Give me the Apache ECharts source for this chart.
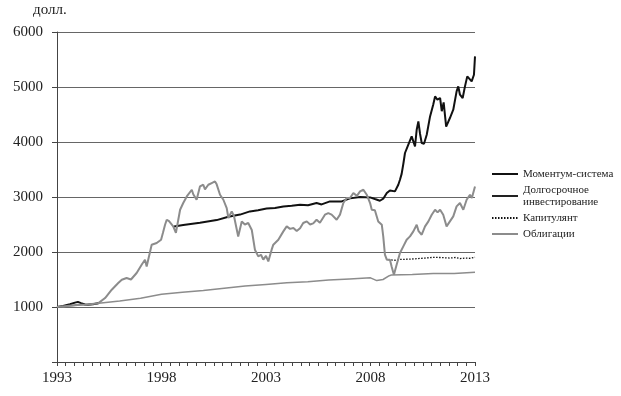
<!DOCTYPE html>
<html>
<head>
<meta charset="utf-8">
<script src="https://cdn.jsdelivr.net/npm/echarts@6/dist/echarts.min.js"></script>
<style>
html,body{margin:0;padding:0;background:#fff;}
#c{width:621px;height:396px;}
</style>
</head>
<body>
<div id="c"></div>
<script>
// ---- data (years as decimals, values in dollars) ----
var seriesNames = ['Моментум-система', 'Долгосрочное инвестирование', 'Капитулянт', 'Облигации'];
var xTickYears = [1993, 1998, 2003, 2008, 2013];

var stockYears = [1993.0,1993.48,1994.0,1994.48,1994.98,1995.30,1995.62,1995.93,1996.10,1996.33,1996.54,1996.81,1997.05,1997.21,1997.29,1997.53,1997.77,1997.98,1998.07,1998.17,1998.25,1998.36,1998.56,1998.69,1998.89,1999.04,1999.21,1999.29,1999.45,1999.52,1999.68,1999.84,2000.0,2000.08,2000.24,2000.40,2000.56,2000.64,2000.80,2000.96,2001.12,2001.20,2001.36,2001.47,2001.67,2001.84,2001.99,2002.15,2002.32,2002.47,2002.63,2002.76,2002.87,2003.0,2003.11,2003.27,2003.35,2003.59,2003.83,2003.99,2004.15,2004.31,2004.47,2004.63,2004.78,2004.95,2005.11,2005.26,2005.42,2005.58,2005.82,2005.98,2006.14,2006.38,2006.54,2006.70,2006.86,2007.02,2007.18,2007.26,2007.35,2007.50,2007.66,2007.74,2007.82,2007.98,2008.06,2008.21,2008.37,2008.54,2008.61,2008.69,2008.78,2008.93,2009.01,2009.12,2009.25,2009.41,2009.57,2009.73,2009.89,2010.05,2010.21,2010.30,2010.45,2010.61,2010.77,2010.93,2011.09,2011.21,2011.33,2011.48,2011.64,2011.80,2011.96,2012.12,2012.28,2012.44,2012.60,2012.76,2012.85,2013.0];
var stockValues = [1000,1020,1040,1045,1070,1163,1314,1436,1496,1527,1500,1618,1769,1860,1738,2133,2163,2224,2350,2496,2587,2560,2465,2350,2769,2890,3010,2980,3132,3050,2950,3192,3223,3140,3223,3254,3283,3230,3041,2950,2799,2618,2738,2650,2283,2556,2500,2527,2400,2042,1920,1950,1860,1930,1829,2042,2133,2224,2375,2466,2420,2436,2380,2430,2527,2557,2500,2520,2587,2530,2678,2708,2680,2587,2680,2890,2981,2981,3072,3102,3020,3102,3132,3163,3041,2890,2769,2760,2556,2496,2284,1951,1860,1860,1738,1587,1769,1981,2102,2224,2284,2375,2496,2380,2314,2466,2557,2678,2769,2720,2769,2678,2466,2557,2647,2829,2890,2769,2950,3041,2980,3193];

// momentum system: the 1995–1998 stretch coincides with the stock line (hidden under it)
var momentumYears = [1993.0,1993.29,1993.62,1993.86,1994.0,1994.15,1994.34,1994.48,1994.72,1994.98,1996.8,1998.60,1999.04,1999.84,2000.64,2001.20,2001.76,2002.23,2002.62,2003.03,2003.43,2003.83,2004.23,2004.63,2005.01,2005.42,2005.66,2006.06,2006.62,2007.02,2007.50,2007.98,2008.21,2008.45,2008.61,2008.78,2008.93,2009.17,2009.25,2009.33,2009.41,2009.49,2009.57,2009.65,2009.81,2009.97,2010.05,2010.13,2010.21,2010.29,2010.37,2010.45,2010.56,2010.69,2010.85,2011.00,2011.09,2011.20,2011.33,2011.41,2011.50,2011.62,2011.70,2011.80,2011.96,2012.12,2012.20,2012.28,2012.41,2012.52,2012.63,2012.71,2012.84,2012.95,2013.0];
var momentumValues = [1000,1020,1050,1080,1093,1070,1045,1042,1050,1070,null,2465,2490,2530,2580,2640,2680,2738,2760,2790,2800,2829,2840,2860,2850,2890,2865,2920,2920,2975,3000,2993,2963,2932,2969,3072,3120,3102,3110,3223,3314,3420,3600,3800,3951,4102,4080,3920,4223,4374,4150,3981,3969,4132,4465,4678,4829,4769,4800,4560,4720,4280,4253,4436,4587,4920,5011,4860,4800,5011,5193,5180,5102,5223,5557];

var capitulantYears = [2008.85,2009.17,2009.41,2009.89,2010.21,2010.61,2011.00,2011.33,2011.80,2012.08,2012.28,2012.52,2012.76,2013.0];
var capitulantValues = [1860,1850,1865,1870,1878,1890,1902,1900,1890,1900,1880,1890,1885,1905];

var bondYears = [1993,1994,1995,1996,1997,1998,1999,2000,2001,2002,2003,2004,2005,2006,2007,2008,2008.3,2008.6,2008.9,2009,2010,2011,2012,2013];
var bondValues = [1000,1030,1070,1110,1160,1230,1270,1300,1340,1380,1410,1440,1460,1490,1510,1530,1480,1500,1570,1580,1590,1610,1610,1630];

function pairs(xs, ys){ return xs.map(function(x,i){ return [x, ys[i]]; }); }

var FONT = '"Liberation Serif", "DejaVu Serif", serif';
var chart = echarts.init(document.getElementById('c'), null, {renderer:'canvas'});
chart.setOption({
  animation:false,
  backgroundColor:'#fff',
  textStyle:{fontFamily:FONT},
  title:{text:'долл.', left:33, top:3, padding:0, textStyle:{fontFamily:FONT, fontSize:15, fontWeight:'normal', color:'#222'}},
  grid:{left:57, right:146, top:32, bottom:34},
  legend:{
    orient:'vertical', left:491, top:168, itemGap:4, itemWidth:26, itemHeight:10, padding:0,
    itemStyle:{opacity:0, borderWidth:0},
    textStyle:{fontFamily:FONT, fontSize:11, color:'#222', lineHeight:12},
    formatter:function(n){ return n === seriesNames[1] ? 'Долгосрочное\nинвестирование' : n; },
    data:[
      {name:seriesNames[0]},
      {name:seriesNames[1], lineStyle:{color:'#222'}},
      {name:seriesNames[2]},
      {name:seriesNames[3]}
    ]
  },
  xAxis:{
    type:'value', min:1993, max:2013, interval:5,
    axisLine:{show:true, onZero:false, lineStyle:{color:'#444', width:1}},
    axisTick:{show:true, length:4, lineStyle:{color:'#444'}},
    minorTick:{show:true, splitNumber:12, length:4, lineStyle:{color:'#444'}},
    splitLine:{show:false},
    axisLabel:{fontFamily:FONT, fontSize:15, color:'#222', margin:9, formatter:function(v){ return xTickYears.indexOf(v) >= 0 ? String(v) : ''; }}
  },
  yAxis:{
    type:'value', min:0, max:6000, interval:1000,
    axisLine:{show:true, lineStyle:{color:'#444', width:1}},
    axisTick:{show:true, length:5, lineStyle:{color:'#444'}},
    splitLine:{show:true, lineStyle:{color:'#666', width:1}},
    axisLabel:{fontFamily:FONT, fontSize:15, color:'#222', margin:14, formatter:function(v){ return v === 0 ? '' : String(v); }}
  },
  series:[
    {name:seriesNames[0], type:'line', symbol:'none', z:3, data:pairs(momentumYears, momentumValues),
     lineStyle:{color:'#111', width:2}, itemStyle:{color:'#111'}},
    {name:seriesNames[1], type:'line', symbol:'none', z:5, data:pairs(stockYears, stockValues),
     lineStyle:{color:'#8c8c8c', width:2}, itemStyle:{color:'#8c8c8c'}},
    {name:seriesNames[2], type:'line', symbol:'none', z:4, data:pairs(capitulantYears, capitulantValues),
     lineStyle:{color:'#111', width:1.3, type:[1.5,1.5]}, itemStyle:{color:'#111'}},
    {name:seriesNames[3], type:'line', symbol:'none', z:2, data:pairs(bondYears, bondValues),
     lineStyle:{color:'#8c8c8c', width:1.5}, itemStyle:{color:'#8c8c8c'}}
  ]
});
</script>
</body>
</html>
